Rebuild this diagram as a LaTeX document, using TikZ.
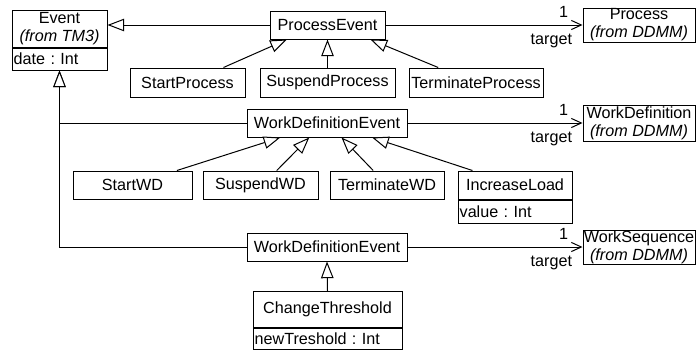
\documentclass[tikz,border=0pt]{standalone}
\usepackage{fontspec}
\setmainfont{Liberation Sans}
\usetikzlibrary{arrows.meta,calc}
\frenchspacing

\begin{document}
\begin{tikzpicture}[x=0.6pt, y=-0.6pt, line width=0.6pt,
    cls/.style={draw, rectangle, inner sep=1pt, minimum height=16.8pt, align=center,
      font=\fontsize{9.7}{10.8}\selectfont},
    twoline/.style={inner ysep=0.2pt},
    attr/.style={cls, align=left, anchor=north},
    gen/.style={-{Triangle[open, fill=white, length=10pt, width=7.5pt]}},
    assoc/.style={-{Straight Barb[length=6pt, width=5.5pt]}},
    lbl/.style={inner sep=0pt, font=\fontsize{9.7}{10.8}\selectfont}]
    \useasboundingbox (0,0) rectangle (696,350);
    \node[cls, twoline, minimum width=57pt, minimum height=22.2pt] (event) at (59.5,28.5) {Event\\\textit{(from TM3)}};
    \node[attr, text width=55pt, minimum height=13.2pt] (eventattr) at (event.south) {date : Int};
    \node[cls, minimum width=69pt] (pe) at (327.5,25) {ProcessEvent};
    \node[cls, minimum width=69pt, minimum height=17.4pt] (startp) at (187.5,82.5) {StartProcess};
    \node[cls, minimum width=81pt, minimum height=17.4pt] (suspp) at (327.5,82.5) {SuspendProcess};
    \node[cls, minimum width=80.4pt, minimum height=17.4pt] (termp) at (476,82.5) {TerminateProcess};
    \node[cls, twoline, inner xsep=0.5pt, minimum width=67.2pt, minimum height=20.4pt] (process) at (639,25) {Process\\\textit{(from DDMM)}};
    \node[cls, minimum width=96pt] (wde1) at (327,123) {WorkDefinitionEvent};
    \node[cls, minimum width=71.4pt] (startwd) at (132.5,185) {StartWD};
    \node[cls, minimum width=69pt] (suspwd) at (260.5,185) {SuspendWD};
    \node[cls, minimum width=68.4pt] (termwd) at (387,185) {TerminateWD};
    \node[cls, minimum width=68.4pt] (incload) at (515,185) {IncreaseLoad};
    \node[attr, text width=66.4pt, minimum height=13.8pt] (incloadattr) at (incload.south) {value : Int};
    \node[cls, twoline, inner xsep=0.5pt, minimum width=67.2pt, minimum height=21.6pt] (workdef) at (639,123) {WorkDefinition\\\textit{(from DDMM)}};
    \node[cls, minimum width=96pt] (wde2) at (327,247) {WorkDefinitionEvent};
    \node[cls, twoline, inner xsep=0.5pt, minimum width=67.2pt, minimum height=18.6pt] (wseq) at (639,247.5) {WorkSequence\\\textit{(from DDMM)}};
    \node[cls, minimum width=89.4pt, minimum height=21.6pt] (changet) at (327.5,309.5) {ChangeThreshold};
    \node[attr, text width=87.4pt, minimum height=12.6pt] (changetattr) at (changet.south) {newTreshold : Int};
    \draw[gen] (pe.west) -- (pe.west -| event.east);
    \draw[gen] (wde1.west) -| (eventattr.south);
    \draw[gen] (wde2.west) -| (eventattr.south);
    \draw[gen] ($(startp.north west)!0.81!(startp.north east)$) -- ($(pe.south west)!0.15!(pe.south east)$);
    \draw[gen] (suspp.north) -- (pe.south);
    \draw[gen] ($(termp.north west)!0.22!(termp.north east)$) -- ($(pe.south west)!0.87!(pe.south east)$);
    \draw[gen] ($(startwd.north west)!0.87!(startwd.north east)$) -- ($(wde1.south west)!0.21!(wde1.south east)$);
    \draw[gen] ($(suspwd.north west)!0.64!(suspwd.north east)$) -- ($(wde1.south west)!0.39!(wde1.south east)$);
    \draw[gen] ($(termwd.north west)!0.38!(termwd.north east)$) -- ($(wde1.south west)!0.59!(wde1.south east)$);
    \draw[gen] ($(incload.north west)!0.13!(incload.north east)$) -- ($(wde1.south west)!0.78!(wde1.south east)$);
    \draw[gen] (changet.north) -- (wde2.south);
    \draw[assoc] (pe.east) -- (process.west);
    \draw[assoc] (wde1.east) -- (workdef.west);
    \draw[assoc] (wde2.east) -- (wde2.east -| wseq.west);
    \foreach \t in {process,workdef,wseq} {
        \node[lbl, anchor=base east] (mult-\t) at ($(\t.west)+(-14,-8)$) {1};
        \node[lbl, anchor=base east] (role-\t) at ($(\t.west)+(-10,19)$) {target};
    }
\end{tikzpicture}
\end{document}
